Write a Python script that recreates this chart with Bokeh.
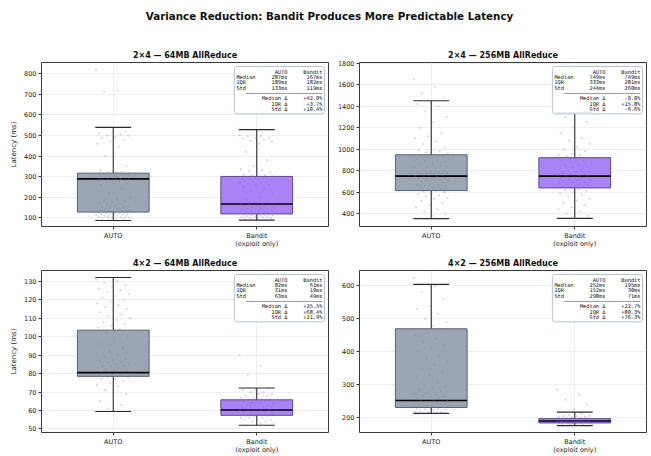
from bokeh.plotting import figure
from bokeh.models import Range1d, Label, Plot, FixedTicker, SingleIntervalTicker
from bokeh.layouts import column, row
from bokeh.core.properties import value
from bokeh.embed import file_html
from bokeh.resources import INLINE

# ---------------- data ----------------
main_title = "Variance Reduction: Bandit Produces More Predictable Latency"
panel_titles = ["2×4 — 64MB AllReduce", "2×4 — 256MB AllReduce",
                "4×2 — 64MB AllReduce", "4×2 — 256MB AllReduce"]
categories = ["AUTO", "Bandit\n(exploit only)"]

# box statistics: [AUTO, Bandit] per panel
q1 = [[128, 119], [615, 640], [78.5, 57.4], [231, 184]]
med = [[289, 167], [749, 749], [80.5, 60.3], [252, 190]]
q3 = [[317, 301], [948, 921], [103.5, 65.8], [470, 197]]
wlo = [[87, 89], [354, 357], [59.5, 52], [213, 176]]
whi = [[539, 528], [1450, 1340], [132, 72.2], [605, 217]]

# jittered raw samples
pts_auto_tl = [820, 717, 712, 520, 515, 510, 505, 500, 498, 492, 488, 480, 470, 460, 445, 400, 350,
               335, 330, 325, 322, 320, 318, 316, 315, 313, 312, 310, 308, 307, 305, 303, 302, 300,
               299, 298, 296, 295, 293, 292, 290, 289, 288, 286, 285, 283, 282, 280, 278, 275, 270,
               265, 260, 240, 220, 200, 190, 185, 180, 175, 170, 168, 165, 160, 158, 155, 152, 150,
               148, 145, 143, 140, 138, 136, 135, 133, 132, 130, 129, 128, 126, 125, 123, 122, 120,
               119, 118, 116, 115, 113, 112, 110, 108, 106, 105, 103, 102, 100, 98, 96, 95, 93, 92]
pts_band_tl = [500, 497, 495, 490, 488, 485, 480, 475, 470, 460, 420, 380, 350, 335, 330, 325, 320,
               315, 310, 307, 305, 302, 300, 298, 296, 295, 292, 290, 288, 285, 282, 280, 277, 275,
               272, 270, 265, 260, 255, 250, 240, 230, 215, 200, 190, 180, 175, 170, 167, 165, 162,
               160, 157, 155, 152, 150, 148, 146, 145, 143, 140, 138, 136, 135, 133, 130, 128, 127,
               125, 123, 122, 120, 118, 117, 115, 113, 112, 110, 108, 107, 105, 103, 102, 100, 98,
               97, 95, 93, 92, 90]
pts_auto_tr = [1650, 1580, 1520, 1480, 1450, 1420, 1400, 1350, 1300, 1250, 1200, 1150, 1120, 1100,
               1070, 1050, 1020, 1000, 990, 980, 970, 960, 950, 940, 930, 920, 910, 900, 890, 880,
               870, 860, 850, 840, 830, 820, 810, 800, 795, 790, 785, 780, 775, 770, 765, 760, 755,
               750, 745, 740, 735, 730, 725, 720, 715, 710, 700, 690, 685, 680, 670, 665, 660, 650,
               645, 640, 630, 625, 620, 615, 610, 600, 590, 580, 570, 560, 550, 540, 520, 500, 480,
               460, 440, 420, 400, 380, 360]
pts_band_tr = [1460, 1340, 1300, 1250, 1200, 1150, 1100, 1080, 1050, 1020, 1000, 980, 960, 950, 940,
               930, 920, 910, 900, 890, 880, 870, 860, 850, 840, 830, 820, 810, 800, 790, 785, 780,
               770, 765, 760, 755, 750, 745, 740, 735, 730, 720, 715, 710, 700, 695, 690, 680, 675,
               670, 665, 660, 655, 650, 645, 640, 630, 620, 610, 600, 590, 580, 560, 540, 520, 500,
               480, 460, 440, 420, 400, 380, 360]
pts_auto_bl = [131, 130, 129, 128, 127, 126, 125, 124, 123, 122, 121, 120, 119, 118, 117, 116, 115,
               114, 113, 112, 111, 110, 109, 108, 107, 106, 105, 104, 102, 100, 98, 96, 94, 92, 91,
               90, 89, 88, 87, 87, 86, 86, 85, 85, 84, 84, 84, 83, 83, 82, 82, 82, 81, 81, 81, 80,
               80, 80, 80, 79, 79, 79, 78, 78, 77, 77, 76, 75, 74, 73, 71, 69, 67, 65, 63, 61, 60]
pts_band_bl = [90, 84, 79, 72, 71, 71, 70, 70, 69, 69, 68, 68, 67, 67, 66, 66, 66, 65, 65, 65, 64,
               64, 64, 63, 63, 63, 62, 62, 62, 62, 61, 61, 61, 61, 60, 60, 60, 60, 59, 59, 59, 58,
               58, 58, 57, 57, 57, 56, 56, 56, 55, 55, 55, 54, 54, 53, 53, 52]
pts_auto_br = [625, 600, 580, 560, 540, 530, 515, 500, 490, 480, 470, 465, 460, 450, 440, 430, 420,
               410, 400, 390, 380, 370, 360, 350, 340, 330, 320, 310, 300, 295, 290, 285, 280, 275,
               272, 270, 267, 265, 262, 260, 258, 255, 253, 252, 250, 249, 248, 246, 245, 243, 242,
               240, 239, 238, 236, 235, 233, 232, 230, 229, 228, 226, 225, 223, 222, 220, 219, 218,
               217, 216, 215, 214]
pts_band_br = [285, 270, 255, 240, 225, 217, 212, 208, 206, 205, 204, 203, 202, 201, 200, 199, 199,
               198, 198, 197, 197, 196, 196, 195, 195, 194, 194, 193, 193, 192, 192, 191, 191, 190,
               190, 190, 189, 189, 188, 188, 187, 187, 186, 186, 185, 185, 184, 184, 183, 183, 182,
               182, 181, 180, 179, 178, 177, 176]
points = [[pts_auto_tl, pts_band_tl], [pts_auto_tr, pts_band_tr],
          [pts_auto_bl, pts_band_bl], [pts_auto_br, pts_band_br]]

# stats table texts
tbl_med_auto = ["287ms", "749ms", "82ms", "252ms"]
tbl_med_band = ["167ms", "749ms", "61ms", "195ms"]
tbl_iqr_auto = ["189ms", "333ms", "31ms", "152ms"]
tbl_iqr_band = ["182ms", "281ms", "10ms", "30ms"]
tbl_std_auto = ["133ms", "244ms", "63ms", "298ms"]
tbl_std_band = ["119ms", "260ms", "49ms", "71ms"]
tbl_d_med = ["+42.0%", "-0.0%", "+25.5%", "+22.7%"]
tbl_d_iqr = ["+3.7%", "+15.8%", "+68.4%", "+80.3%"]
tbl_d_std = ["+10.4%", "-6.6%", "+21.9%", "+76.3%"]

# axis settings
y_ranges = [(58, 854), (281, 1806), (48.1, 135.8), (155, 647)]
y_steps = [100, 200, 10, 100]

# ---------------- style ----------------
FONT = "DejaVu Sans"
MONO = "DejaVu Sans Mono"
box_fill = ["#9ba5b4", "#a982f5"]
box_edge = ["#566275", "#5b4a86"]
pt_color = ["#7a8699", "#8b5cf6"]
frame_color = "#3a3a3a"


def jitter_offsets(n):
    # deterministic low-discrepancy spread (visual jitter only)
    return [((k * 0.6180339887) % 1.0 - 0.5) * 0.24 for k in range(n)]


def make_panel(i, width, height, mb_left, mb_right, mb_top, mb_bottom, ylabel):
    lo, hi = y_ranges[i]
    p = figure(width=width, height=height, x_range=Range1d(-0.5, 1.5), y_range=Range1d(lo, hi),
               output_backend="svg", toolbar_location=None,
               min_border_left=mb_left, min_border_right=mb_right,
               min_border_top=mb_top, min_border_bottom=mb_bottom)
    p.title.text = panel_titles[i]
    p.title.align = "center"
    p.title.text_font = FONT
    p.title.text_font_size = "8px"
    p.title.text_font_style = "bold"
    p.title.text_color = "#111111"
    p.title.standoff = 6
    p.outline_line_color = frame_color
    p.outline_line_width = 1
    p.background_fill_color = "white"
    p.border_fill_color = "white"

    for ax in (p.xaxis[0], p.yaxis[0]):
        ax.axis_line_color = None
        ax.major_tick_line_color = frame_color
        ax.major_tick_out = 3
        ax.major_tick_in = 0
        ax.minor_tick_line_color = None
        ax.major_label_text_font = FONT
        ax.major_label_text_font_size = "6.5px"
        ax.major_label_text_color = "#1a1a1a"
        ax.major_label_standoff = 2
    p.xaxis[0].major_label_text_line_height = 1.0
    p.yaxis[0].ticker = SingleIntervalTicker(interval=y_steps[i], num_minor_ticks=0)
    p.xaxis[0].ticker = FixedTicker(ticks=[0, 1])
    p.xaxis[0].major_label_overrides = {0: categories[0], 1: categories[1]}
    if ylabel:
        p.yaxis[0].axis_label = "Latency (ms)"
        p.yaxis[0].axis_label_text_font = FONT
        p.yaxis[0].axis_label_text_font_size = "7px"
        p.yaxis[0].axis_label_text_font_style = "normal"
        p.yaxis[0].axis_label_text_color = "#1a1a1a"
        p.yaxis[0].axis_label_standoff = 3
    p.grid.grid_line_color = "#e6e6e6"
    p.grid.grid_line_width = 0.7

    for j in range(2):
        x = j
        # whiskers
        p.segment(x0=[x, x], y0=[q3[i][j], q1[i][j]], x1=[x, x], y1=[whi[i][j], wlo[i][j]],
                  line_color="#2b2b2b", line_width=1.1)
        # caps
        p.segment(x0=[x - 0.125, x - 0.125], y0=[whi[i][j], wlo[i][j]],
                  x1=[x + 0.125, x + 0.125], y1=[whi[i][j], wlo[i][j]],
                  line_color="#2b2b2b", line_width=1.1)
        # box
        p.vbar(x=[x], width=0.5, bottom=[q1[i][j]], top=[q3[i][j]], fill_color=box_fill[j],
               fill_alpha=1.0, line_color=box_edge[j], line_width=1)
        # median
        p.segment(x0=[x - 0.25], y0=[med[i][j]], x1=[x + 0.25], y1=[med[i][j]],
                  line_color="black", line_width=1.6)
        # jittered points
        vals = points[i][j]
        offs = jitter_offsets(len(vals))
        p.scatter(x=[x + o for o in offs], y=vals, size=2.2, marker="circle",
                  fill_color=pt_color[j], fill_alpha=0.3, line_color=None)

    lines = [
        f"{'':7}{'AUTO':>9}{'Bandit':>11}",
        f"{'Median':<7}{tbl_med_auto[i]:>9}{tbl_med_band[i]:>11}",
        f"{'IQR':<7}{tbl_iqr_auto[i]:>9}{tbl_iqr_band[i]:>11}",
        f"{'Std':<7}{tbl_std_auto[i]:>9}{tbl_std_band[i]:>11}",
        "   " + "─" * 24,
        f"{'Median Δ':>16}{tbl_d_med[i]:>11}",
        f"{'IQR Δ':>16}{tbl_d_iqr[i]:>11}",
        f"{'Std Δ':>16}{tbl_d_std[i]:>11}",
    ]
    txt = "\n".join(lines).replace(" ", "\u00a0")
    p.text(x=[1.5], y=[hi], text=[txt], text_align="right", text_baseline="top",
           x_offset=-4, y_offset=4, text_font=value(MONO), text_font_size="5.3px",
           text_line_height=0.89, text_color="#111111",
           background_fill_color="white", background_fill_alpha=0.9,
           border_line_color="#b9c3d6", border_line_width=1, border_radius=3, padding=2)
    return p


# title strip
tplot = Plot(width=651, height=40, x_range=Range1d(0, 651), y_range=Range1d(0, 40),
             min_border=0, outline_line_color=None, toolbar_location=None,
             output_backend="svg")
tplot.add_layout(Label(x=329, y=25, text=main_title, text_align="center",
                       text_baseline="middle", text_font=FONT, text_font_size="10.3px",
                       text_font_style="bold", text_color="#111111"))

p1 = make_panel(0, 333, 210, 41, 5, 22, 22, True)
p2 = make_panel(1, 318, 210, 26, 5, 22, 22, False)
p3 = make_panel(2, 333, 206, 41, 5, 20, 22, True)
p4 = make_panel(3, 318, 206, 26, 5, 20, 22, False)

layout = column(tplot, row(p1, p2), row(p3, p4))

with open("out.html", "w") as f:
    f.write(file_html(layout, INLINE))
